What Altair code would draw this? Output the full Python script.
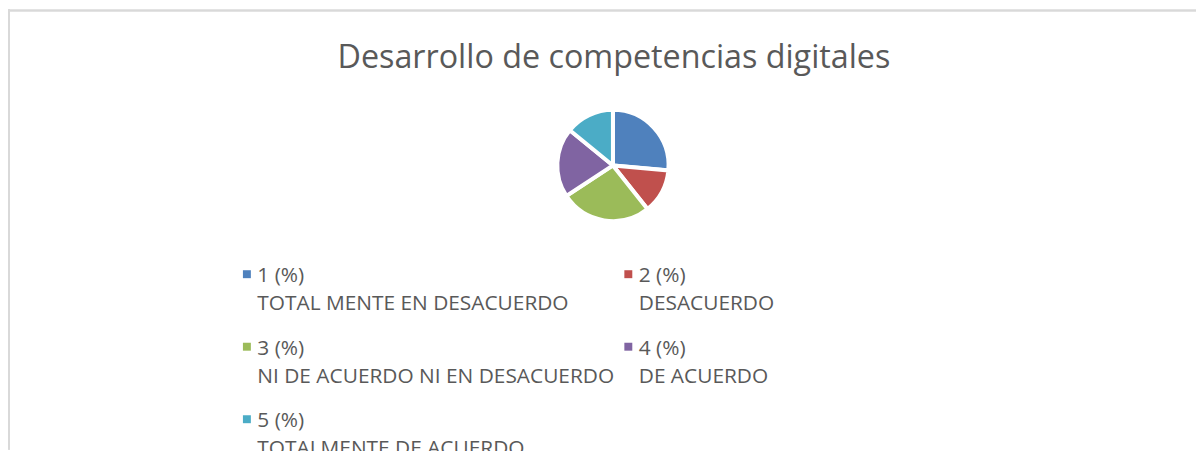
import altair as alt
import pandas as pd

categorias = [
    "1 (%)|TOTAL MENTE EN DESACUERDO",
    "2 (%)|DESACUERDO",
    "3 (%)|NI DE ACUERDO NI EN DESACUERDO",
    "4 (%)|DE ACUERDO",
    "5 (%)|TOTALMENTE DE ACUERDO",
]
valores = [26.4, 12.9, 26.4, 20.1, 14.1]
colores = ["#4f81bd", "#c0504d", "#9bbb59", "#8064a2", "#4bacc6"]

df = pd.DataFrame({"cat": categorias, "val": valores, "orden": list(range(len(valores)))})

FONT = "Open Sans"
W, H = 1196, 443

pie = alt.Chart(df).mark_arc(
    outerRadius=56, stroke="white", strokeWidth=4
).encode(
    theta=alt.Theta("val:Q", stack=True),
    order=alt.Order("orden:Q"),
    color=alt.Color(
        "cat:N",
        sort=categorias,
        scale=alt.Scale(domain=categorias, range=colores),
        legend=alt.Legend(
            title=None,
            orient="none",
            legendX=230,
            legendY=256,
            columns=2,
            direction="horizontal",
            symbolType="square",
            symbolSize=64,
            symbolStrokeWidth=0,
            labelExpr="split(datum.label, '|')",
            labelFont=FONT,
            labelFontSize=21,
            labelColor="#595959",
            labelLimit=600,
            labelBaseline="top",
            labelOffset=0,
            columnPadding=3,
            rowPadding=22,
        ),
    ),
    x=alt.value(609),
    y=alt.value(157),
)

border_top = alt.Chart(df).mark_rule(color="#d9d9d9", strokeWidth=1.5).encode(
    x=alt.value(0), x2=alt.value(W), y=alt.value(1)
)
border_left = alt.Chart(df).mark_rule(color="#d9d9d9", strokeWidth=1.5).encode(
    x=alt.value(1), y=alt.value(0), y2=alt.value(H)
)

chart = alt.layer(border_top, border_left, pie).properties(
    width=W,
    height=H,
    padding=0,
    autosize=alt.AutoSizeParams(type="none"),
    title=alt.TitleParams(
        "Desarrollo de competencias digitales",
        anchor="middle",
        font=FONT,
        fontSize=32.5,
        fontWeight="normal",
        color="#595959",
        offset=-66,
        dx=12,
    ),
).configure(
    style={"guide-label": {"lineHeight": 28.5, "dy": -9}},
    view=alt.ViewConfig(stroke=None),
)

chart.save("out.html", embed_options={"renderer": "svg", "actions": False})
